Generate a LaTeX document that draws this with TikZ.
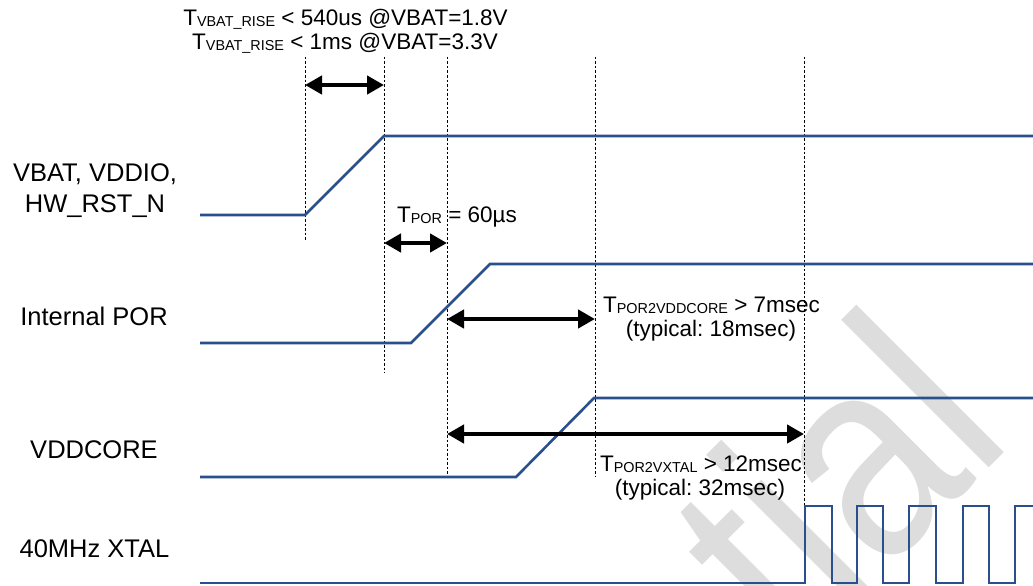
\documentclass[tikz,border=0pt]{standalone}
\usepackage{fontspec}
\usepackage{graphicx}
\setmainfont{Liberation Sans}
\usetikzlibrary{arrows.meta}
\definecolor{sig}{RGB}{41,80,140}
\definecolor{wm}{RGB}{221,221,221}
\newcommand\sbs[1]{\raisebox{-1pt}{\fontsize{14.4}{15}\selectfont #1}}
\frenchspacing
\begin{document}
\begin{tikzpicture}[x=1pt,y=-1pt,
  signal/.style={draw=sig, line width=2.6pt, line join=miter},
  guide/.style={draw=black, line width=0.8pt, dash pattern=on 2.5pt off 2pt},
  dimarrow/.style={draw=black, line width=4.5pt, {Triangle[length=17pt,width=18pt]}-{Triangle[length=17pt,width=18pt]}},
  lbl/.style={font=\fontsize{25.5}{30}\selectfont, inner sep=0pt, anchor=base},
  ann/.style={font=\fontsize{22.5}{25}\selectfont, inner sep=0pt, anchor=base},
]
\useasboundingbox (0,0) rectangle (1033,586);
% watermark (background)
\begin{scope}
\clip (0,0) rectangle (1033,586);
\node[text=wm, font=\fontsize{288}{288}\selectfont, rotate=45, anchor=base east, inner sep=0pt] (wmark) at (1016,441) {\scalebox{0.85}[1]{tial}};
\end{scope}
% time markers
\coordinate (ta) at (305,0);
\coordinate (tb) at (384,0);
\coordinate (tc) at (447,0);
\coordinate (td) at (595,0);
\coordinate (te) at (804,0);
\draw[guide] (ta |- 0,57) -- (ta |- 0,240);
\draw[guide] (tb |- 0,57) -- (tb |- 0,373);
\draw[guide] (tc |- 0,57) -- (tc |- 0,477);
\draw[guide] (td |- 0,57) -- (td |- 0,477);
\draw[guide] (te |- 0,57) -- (te |- 0,506);
% signals
\draw[signal] (200,215) -- (305,215) -- (384,136) -- (1033,136);
\draw[signal] (200,343) -- (411,343) -- (490,264) -- (1033,264);
\draw[signal] (200,477) -- (516,477) -- (594,398) -- (1033,398);
\draw[signal] (200,583) -- (805,583) -- (805,506) -- (832,506) -- (832,583)
  -- (857,583) -- (857,506) -- (883,506) -- (883,583)
  -- (909,583) -- (909,506) -- (936,506) -- (936,583)
  -- (963,583) -- (963,506) -- (989,506) -- (989,583)
  -- (1015,583) -- (1015,506) -- (1033,506);
% dimension arrows
\draw[dimarrow] (ta |- 0,85) -- (tb |- 0,85);
\draw[dimarrow] (tb |- 0,243) -- (tc |- 0,243);
\draw[dimarrow] (tc |- 0,319) -- (td |- 0,319);
\draw[dimarrow] (tc |- 0,434) -- (te |- 0,434);
% annotations
\node[ann] (r1) at (345.5,26) {T\sbs{VBAT\_RISE} < 540us @VBAT=1.8V};
\node[ann] (r2) at (345,50) {T\sbs{VBAT\_RISE} < 1ms @VBAT=3.3V};
\node[ann] (por) at (457,222) {T\sbs{POR} = 60µs};
\node[ann] (p2v1) at (711.5,312) {T\sbs{POR2VDDCORE} > 7msec};
\node[ann] (p2v2) at (711,336) {(typical: 18msec)};
\node[ann] (p2x1) at (701,471) {T\sbs{POR2VXTAL} > 12msec};
\node[ann] (p2x2) at (700,495) {(typical: 32msec)};
% signal labels
\node[lbl] (l1a) at (95,181) {VBAT, VDDIO,};
\node[lbl] (l1b) at (95,212) {HW\_RST\_N};
\node[lbl] (l2) at (94,325) {Internal POR};
\node[lbl] (l3) at (94,458) {VDDCORE};
\node[lbl] (l4) at (94.5,557) {40MHz XTAL};
\end{tikzpicture}
\end{document}
